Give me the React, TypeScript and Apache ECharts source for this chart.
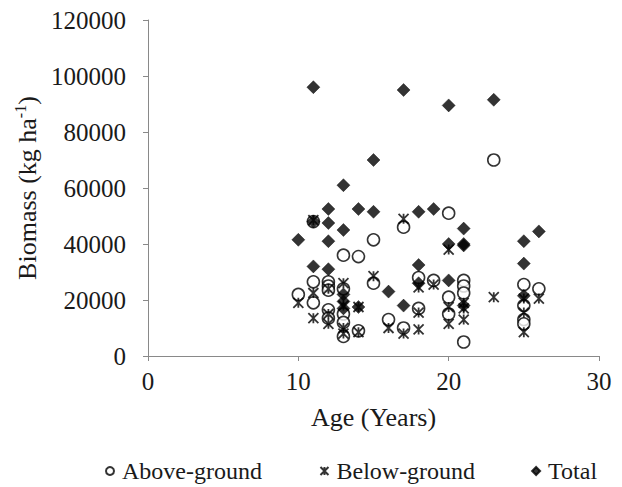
import React, { useEffect, useRef } from "react";
import * as echarts from "echarts";

// [age (years), biomass (kg/ha)]
const aboveGround: [number, number][] = [
  [10, 22000],
  [11, 48000], [11, 26500], [11, 19000],
  [12, 26500], [12, 25000], [12, 23500], [12, 16500], [12, 13500],
  [13, 36000], [13, 24000], [13, 15000], [13, 12000], [13, 7000],
  [14, 35500], [14, 9000],
  [15, 41500], [15, 26000],
  [16, 13000],
  [17, 46000], [17, 10000],
  [18, 28000], [18, 17000],
  [19, 27000],
  [20, 51000], [20, 21000], [20, 15000],
  [21, 27000], [21, 25000], [21, 22500], [21, 5000],
  [23, 70000],
  [25, 25500], [25, 18000], [25, 13000], [25, 11500],
  [26, 24000],
];

const belowGround: [number, number][] = [
  [10, 19000],
  [11, 48500], [11, 22500], [11, 13500],
  [12, 24000], [12, 15000], [12, 11500],
  [13, 26000], [13, 18000], [13, 10000], [13, 8000],
  [14, 17500], [14, 8500],
  [15, 28500],
  [16, 10000],
  [17, 49000], [17, 8000],
  [18, 24500], [18, 15500], [18, 9500],
  [19, 25500],
  [20, 38000], [20, 17500], [20, 11500],
  [21, 19000], [21, 17000], [21, 13000],
  [23, 21000],
  [25, 20500], [25, 15500], [25, 8500],
  [26, 20500],
];

const total: [number, number][] = [
  [10, 41500],
  [11, 96000], [11, 48000], [11, 32000],
  [12, 52500], [12, 47500], [12, 41000], [12, 31000],
  [13, 61000], [13, 45000], [13, 22000], [13, 19500], [13, 17000],
  [14, 52500], [14, 17500],
  [15, 70000], [15, 51500],
  [16, 23000],
  [17, 95000], [17, 18000],
  [18, 51500], [18, 32500], [18, 26000],
  [19, 52500],
  [20, 89500], [20, 40000], [20, 27000],
  [21, 45500], [21, 40000], [21, 39500], [21, 18000],
  [23, 91500],
  [25, 41000], [25, 33000], [25, 21500],
  [26, 44500],
];

const xTicks = { min: 0, max: 30, interval: 10 };
const yTicks = { min: 0, max: 120000, interval: 20000 };

const FONT = "'Liberation Serif', 'Times New Roman', serif";
const TEXT = "#1a1a1a";
const AXIS = "#898989";
const STAR = "path://M0,0L10,10M10,0L0,10M5,0L5,10";

export default function App() {
  const ref = useRef<HTMLDivElement>(null);
  useEffect(() => {
    if (!ref.current) return;
    const chart = echarts.init(ref.current, undefined, { renderer: "svg" });
    chart.setOption({
      animation: false,
      backgroundColor: "#ffffff",
      textStyle: { fontFamily: FONT },
      grid: {
        left: 140,
        top: 12,
        right: 15,
        bottom: 131,
        containLabel: false,
        outerBoundsMode: "none",
      },
      xAxis: {
        type: "value",
        ...xTicks,
        name: "Age (Years)",
        nameLocation: "middle",
        nameGap: 48,
        nameTextStyle: { fontFamily: FONT, fontSize: 26, color: TEXT },
        axisLine: { lineStyle: { color: AXIS, width: 1 } },
        axisTick: { show: true, length: 5, lineStyle: { color: AXIS } },
        axisLabel: {
          fontFamily: FONT,
          fontSize: 25,
          color: TEXT,
          margin: 13,
          formatter: (v: number) => String(v),
        },
        splitLine: { show: false },
      },
      yAxis: {
        type: "value",
        ...yTicks,
        name: "{a|Biomass (kg ha}{s|-1}{a|)}",
        nameLocation: "middle",
        nameGap: 106,
        nameRotate: 90,
        nameTextStyle: {
          fontFamily: FONT,
          color: TEXT,
          rich: {
            a: { fontFamily: FONT, fontSize: 26, color: TEXT, lineHeight: 30 },
            s: { fontFamily: FONT, fontSize: 16, color: TEXT, verticalAlign: "top", lineHeight: 30 },
          },
        },
        axisLine: { show: true, lineStyle: { color: AXIS, width: 1 } },
        axisTick: { show: true, length: 5, lineStyle: { color: AXIS } },
        axisLabel: {
          fontFamily: FONT,
          fontSize: 25,
          color: TEXT,
          margin: 22,
          formatter: (v: number) => String(v),
        },
        splitLine: { show: false },
      },
      legend: {
        top: 446,
        left: 92,
        width: 510,
        itemGap: 56,
        itemWidth: 8,
        itemHeight: 8,
        textStyle: { fontFamily: FONT, fontSize: 24, color: TEXT, padding: [0, 0, 0, 3] },
        data: [
          { name: "Above-ground", icon: "circle" },
          { name: "Below-ground", icon: STAR },
          { name: "Total", icon: "diamond" },
        ],
      },
      series: [
        {
          name: "Above-ground",
          type: "scatter",
          data: aboveGround,
          symbol: "circle",
          symbolSize: 12,
          itemStyle: { color: "#ffffff", borderColor: "#000000", borderWidth: 1.6 },
          z: 2,
        },
        {
          name: "Below-ground",
          type: "scatter",
          data: belowGround,
          symbol: STAR,
          symbolSize: 10,
          itemStyle: { color: "none", borderColor: "#000000", borderWidth: 1.8 },
          z: 3,
        },
        {
          name: "Total",
          type: "scatter",
          data: total,
          symbol: "diamond",
          symbolSize: 13,
          itemStyle: { color: "#000000", borderColor: "#000000", borderWidth: 0.5 },
          z: 4,
        },
      ],
    });
    return () => chart.dispose();
  }, []);
  return <div ref={ref} style={{ width: 606, height: 479 }} />;
}
